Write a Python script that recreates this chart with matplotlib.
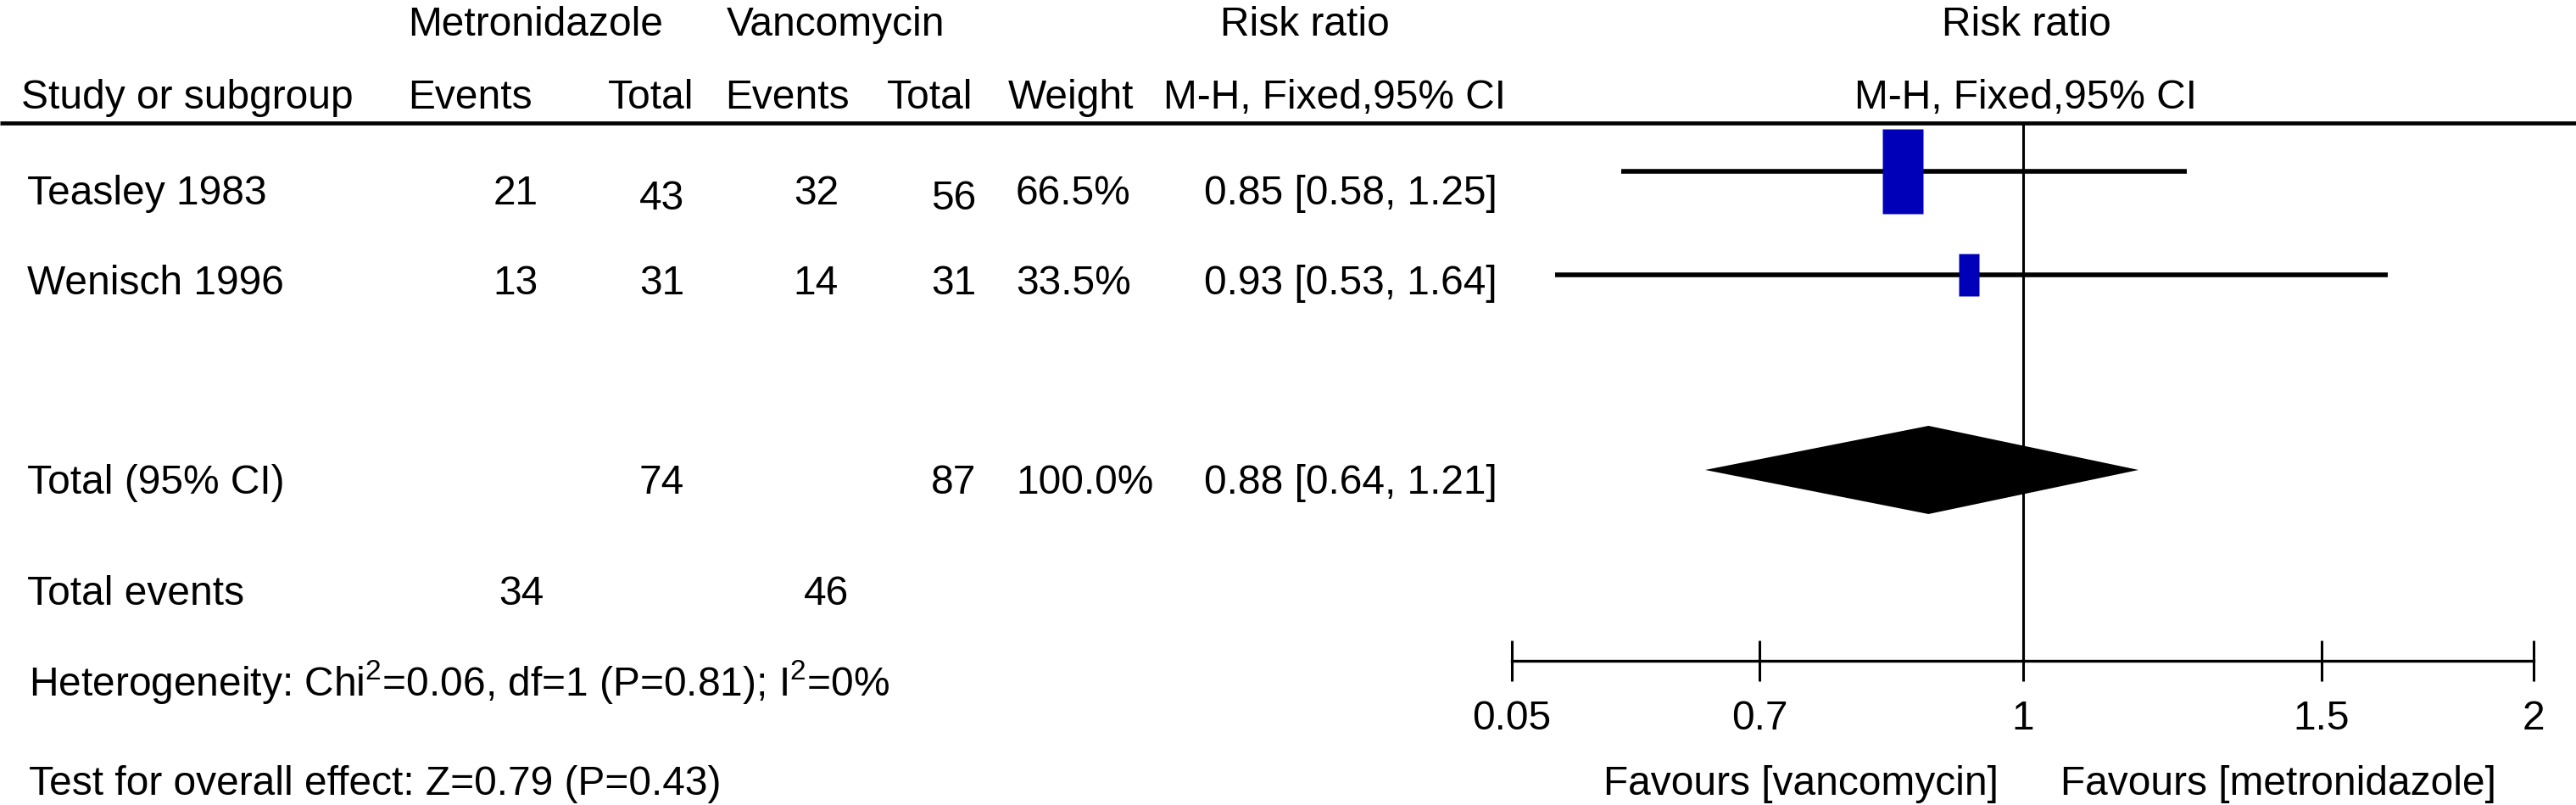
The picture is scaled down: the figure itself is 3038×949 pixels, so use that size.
import matplotlib
matplotlib.use('Agg')
import matplotlib.pyplot as plt
from matplotlib.path import Path
from matplotlib.markers import MarkerStyle
from matplotlib.ticker import FixedLocator, FixedFormatter, NullLocator

plt.rcParams['font.family'] = ['Liberation Sans', 'DejaVu Sans']
plt.rcParams['mathtext.fontset'] = 'custom'
plt.rcParams['mathtext.rm'] = 'Liberation Sans'
plt.rcParams['mathtext.default'] = 'regular'

# ---------------- data ----------------
studies = ['Teasley 1983', 'Wenisch 1996']
metro_events = [21, 13]
metro_total = [43, 31]
vanc_events = [32, 14]
vanc_total = [56, 31]
weights = [66.5, 33.5]
rr = [0.85, 0.93]
ci_lo = [0.58, 0.53]
ci_hi = [1.25, 1.64]

pooled_rr = 0.88
pooled_lo = 0.64
pooled_hi = 1.21
pooled_drawn_lo = 0.65   # diamond extent as drawn in the picture
pooled_drawn_hi = 1.17
total_metro = 74
total_vanc = 87
total_weight = 100.0
events_metro = 34
events_vanc = 46

heterogeneity = r'Heterogeneity: Chi$^{2}$=0.06, df=1 (P=0.81); I$^{2}$=0%'
overall = 'Test for overall effect: Z=0.79 (P=0.43)'
tick_values = [0.5, 0.7, 1, 1.5, 2]
tick_labels = ['0.05', '0.7', '1', '1.5', '2']
favours_left = 'Favours [vancomycin]'
favours_right = 'Favours [metronidazole]'

# ---------------- layout ----------------
W, H = 3038, 949
FS = 34.5
fig = plt.figure(figsize=(W / 100, H / 100), dpi=100)
bg = fig.add_axes([0, 0, 1, 1])
bg.set_xlim(0, W)
bg.set_ylim(H, 0)
bg.axis('off')


def t(x, y, s, ha='left', **kw):
    bg.text(x, y, s, ha=ha, va='baseline', fontsize=FS, color='black', **kw)


# headers
t(632, 42, 'Metronidazole', ha='center')
t(986, 42, 'Vancomycin', ha='center')
t(1539, 42, 'Risk ratio', ha='center')
t(2390, 42, 'Risk ratio', ha='center')
t(25, 128, 'Study or subgroup')
t(481, 128, 'Events')
t(818, 128, 'Total', ha='right')
t(855, 128, 'Events')
t(1147, 128, 'Total', ha='right')
t(1189, 128, 'Weight')
t(1372, 128, 'M-H, Fixed,95% CI')
t(2389, 128, 'M-H, Fixed,95% CI', ha='center')
bg.hlines(145, 0, W, color='black', lw=3.4)

# study rows
row_base = [241, 347]
tot_offset = [6, 0]
for i, name in enumerate(studies):
    yb = row_base[i]
    t(32, yb, name)
    t(635, yb, str(metro_events[i]), ha='right')
    t(807, yb + tot_offset[i], str(metro_total[i]), ha='right')
    t(989, yb, str(vanc_events[i]), ha='right')
    t(1151, yb + tot_offset[i], str(vanc_total[i]), ha='right')
    t(1198, yb, f'{weights[i]:.1f}%')
    t(1420, yb, f'{rr[i]:.2f} [{ci_lo[i]:.2f}, {ci_hi[i]:.2f}]')

# total row
t(32, 582, 'Total (95% CI)')
t(807, 582, str(total_metro), ha='right')
t(1151, 582, str(total_vanc), ha='right')
t(1198, 582, f'{total_weight:.1f}%')
t(1420, 582, f'{pooled_rr:.2f} [{pooled_lo:.2f}, {pooled_hi:.2f}]')

t(32, 713, 'Total events')
t(641, 713, str(events_metro), ha='right')
t(1001, 713, str(events_vanc), ha='right')

t(34, 820, heterogeneity)
t(34, 937, overall)

t(2357, 937, favours_left, ha='right')
t(2430, 937, favours_right, ha='left')

# ---------------- forest panel ----------------
x0, x1 = 1783, 2988
ytop, ybot = 145, 779
fa = fig.add_axes([x0 / W, (H - ybot) / H, (x1 - x0) / W, (ybot - ytop) / H])
fa.set_xscale('log')
fa.set_xlim(tick_values[0], tick_values[-1])
fa.set_ylim(ybot, ytop)
fa.patch.set_alpha(0)
for s in ['top', 'left', 'right']:
    fa.spines[s].set_visible(False)
fa.spines['bottom'].set_linewidth(2.4)
fa.yaxis.set_visible(False)
fa.xaxis.set_major_locator(FixedLocator(tick_values))
fa.xaxis.set_major_formatter(FixedFormatter(tick_labels))
fa.xaxis.set_minor_locator(NullLocator())
fa.tick_params(axis='x', direction='inout', length=34, width=2.2,
               labelsize=FS, pad=16, colors='black')

fa.axvline(1, color='black', lw=2.2, zorder=1)

ci_y = [202, 324]
box_path = Path([(-0.24, -0.5), (0.24, -0.5), (0.24, 0.5), (-0.24, 0.5), (-0.24, -0.5)],
                [Path.MOVETO, Path.LINETO, Path.LINETO, Path.LINETO, Path.CLOSEPOLY])
fa.hlines(ci_y, ci_lo, ci_hi, color='black', lw=4.0, zorder=2)
for i in range(len(studies)):
    fa.plot([rr[i]], [ci_y[i]], linestyle='none', marker=MarkerStyle(box_path),
            markersize=weights[i] * 72 / 66.5, markerfacecolor='#0000B8',
            markeredgecolor='none', zorder=3, clip_on=False)

dy = 554
dh = 52
fa.fill([pooled_drawn_lo, pooled_rr, pooled_drawn_hi, pooled_rr],
        [dy, dy - dh, dy, dy + dh], color='black', lw=0, zorder=2)

fig.savefig('out.png', dpi=100)
